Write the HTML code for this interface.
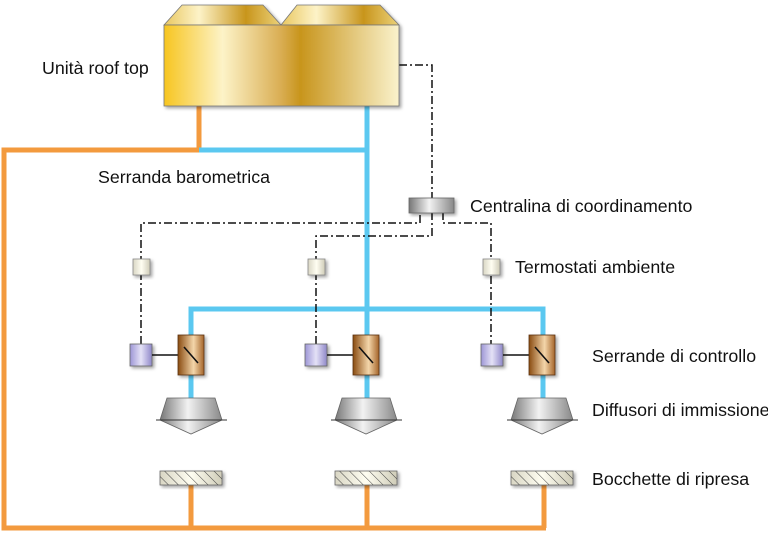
<!DOCTYPE html>
<html><head><meta charset="utf-8"><style>
html,body{margin:0;padding:0;background:#fff;}
svg{display:block;}
text{font-family:"Liberation Sans",Arial,sans-serif;font-size:17.8px;fill:#111;}
</style></head><body>
<svg width="768" height="533" viewBox="0 0 768 533" xmlns="http://www.w3.org/2000/svg">
<defs>
<linearGradient id="gold" x1="0" x2="1" y1="0" y2="0">
<stop offset="0" stop-color="#f7c51f"/><stop offset="0.25" stop-color="#fdf3c8"/><stop offset="0.5" stop-color="#d9ad52"/><stop offset="0.58" stop-color="#c8951c"/><stop offset="1" stop-color="#faf2cc"/>
</linearGradient>
<linearGradient id="gold2" x1="0" x2="1"><stop offset="0" stop-color="#e9c760"/><stop offset="0.3" stop-color="#fdf3c8"/><stop offset="0.7" stop-color="#c8951c"/><stop offset="1" stop-color="#ecd27a"/></linearGradient>
<linearGradient id="brown" x1="0" x2="1"><stop offset="0" stop-color="#8a4c12"/><stop offset="0.6" stop-color="#f4d6aa"/><stop offset="1" stop-color="#a5652a"/></linearGradient>
<linearGradient id="purp" x1="0" x2="1"><stop offset="0" stop-color="#9d96d6"/><stop offset="0.5" stop-color="#e4e1f6"/><stop offset="1" stop-color="#8f88c9"/></linearGradient>
<linearGradient id="grey" x1="0" x2="1"><stop offset="0" stop-color="#777"/><stop offset="0.45" stop-color="#f2f2f2"/><stop offset="1" stop-color="#888"/></linearGradient>
<linearGradient id="cream" x1="0" x2="1"><stop offset="0" stop-color="#d9d6c4"/><stop offset="0.5" stop-color="#fffef2"/><stop offset="1" stop-color="#cfccb8"/></linearGradient>
<pattern id="hatch" width="7" height="7" patternUnits="userSpaceOnUse" patternTransform="rotate(-45)"><line x1="0" y1="0" x2="0" y2="7" stroke="#444" stroke-width="1"/></pattern>
<filter id="sh" x="-20%" y="-20%" width="150%" height="150%"><feDropShadow dx="2" dy="2" stdDeviation="1.5" flood-opacity="0.35"/></filter>
</defs>

<g stroke="#f39a3e" stroke-width="5" fill="none">
<polyline points="199,104 199,150 4,150 4,528 546,528"/>
<line x1="191" y1="484" x2="191" y2="528"/>
<line x1="367" y1="484" x2="367" y2="528"/>
<line x1="544" y1="484" x2="544" y2="528"/>
</g>

<g stroke="#5bc8f0" stroke-width="5" fill="none">
<polyline points="199,150 367,150"/>
<line x1="367" y1="104" x2="367" y2="400"/>
<polyline points="191,335 191,309 543,309 543,335"/>
<line x1="191" y1="374" x2="191" y2="400"/>
<line x1="543" y1="374" x2="543" y2="400"/>
</g>

<g stroke="#111" stroke-width="1.5" fill="none" stroke-dasharray="8,3,2,3">
<polyline points="399,65 432,65 432,198"/>
<polyline points="141,344 141,223 420,223 420,212"/>
<polyline points="316,344 316,236 432,236 432,212"/>
<polyline points="443,212 443,223 491,223 491,344"/>
</g>

<g filter="url(#sh)" stroke="#777" stroke-width="0.8">
<polygon points="164,25 182,5 263,5 281,25" fill="url(#gold2)"/>
<polygon points="281,25 297,5 380,5 399,25" fill="url(#gold2)"/>
<rect x="164" y="25" width="235" height="81" fill="url(#gold)"/>
</g>

<rect x="409" y="198" width="45" height="15" fill="url(#grey)" stroke="#666" stroke-width="0.8" filter="url(#sh)"/>

<g fill="url(#cream)" stroke="#888" stroke-width="0.8" filter="url(#sh)">
<rect x="133" y="259" width="17" height="16"/>
<rect x="308" y="259" width="17" height="16"/>
<rect x="483" y="259" width="17" height="16"/>
</g>

<g id="u">
<rect x="130" y="344" width="22" height="22" fill="url(#purp)" stroke="#666" stroke-width="0.8" filter="url(#sh)"/>
<line x1="152" y1="355" x2="190" y2="355" stroke="#111" stroke-width="1.5"/>
<rect x="178" y="335" width="26" height="40" fill="url(#brown)" stroke="#5a3010" stroke-width="0.8" filter="url(#sh)"/>
<line x1="184" y1="347" x2="198" y2="363" stroke="#111" stroke-width="1.6"/>
<polygon points="167,398 215,398 222,420 191,434 160,420" fill="url(#grey)" stroke="#666" stroke-width="0.8"/>
<line x1="156" y1="420" x2="227" y2="420" stroke="#333" stroke-width="1"/>
<g filter="url(#sh)"><rect x="160" y="471" width="62" height="14" fill="url(#cream)" stroke="#666" stroke-width="0.8"/><rect x="160" y="471" width="62" height="14" fill="url(#hatch)"/></g>
</g>
<use href="#u" x="175"/>
<use href="#u" x="351"/>

<text x="42" y="74">Unità roof top</text>
<text x="98" y="183">Serranda barometrica</text>
<text x="470" y="212">Centralina di coordinamento</text>
<text x="515" y="273">Termostati ambiente</text>
<text x="592" y="362">Serrande di controllo</text>
<text x="592" y="416">Diffusori di immissione</text>
<text x="592" y="485">Bocchette di ripresa</text>
</svg>
</body></html>
